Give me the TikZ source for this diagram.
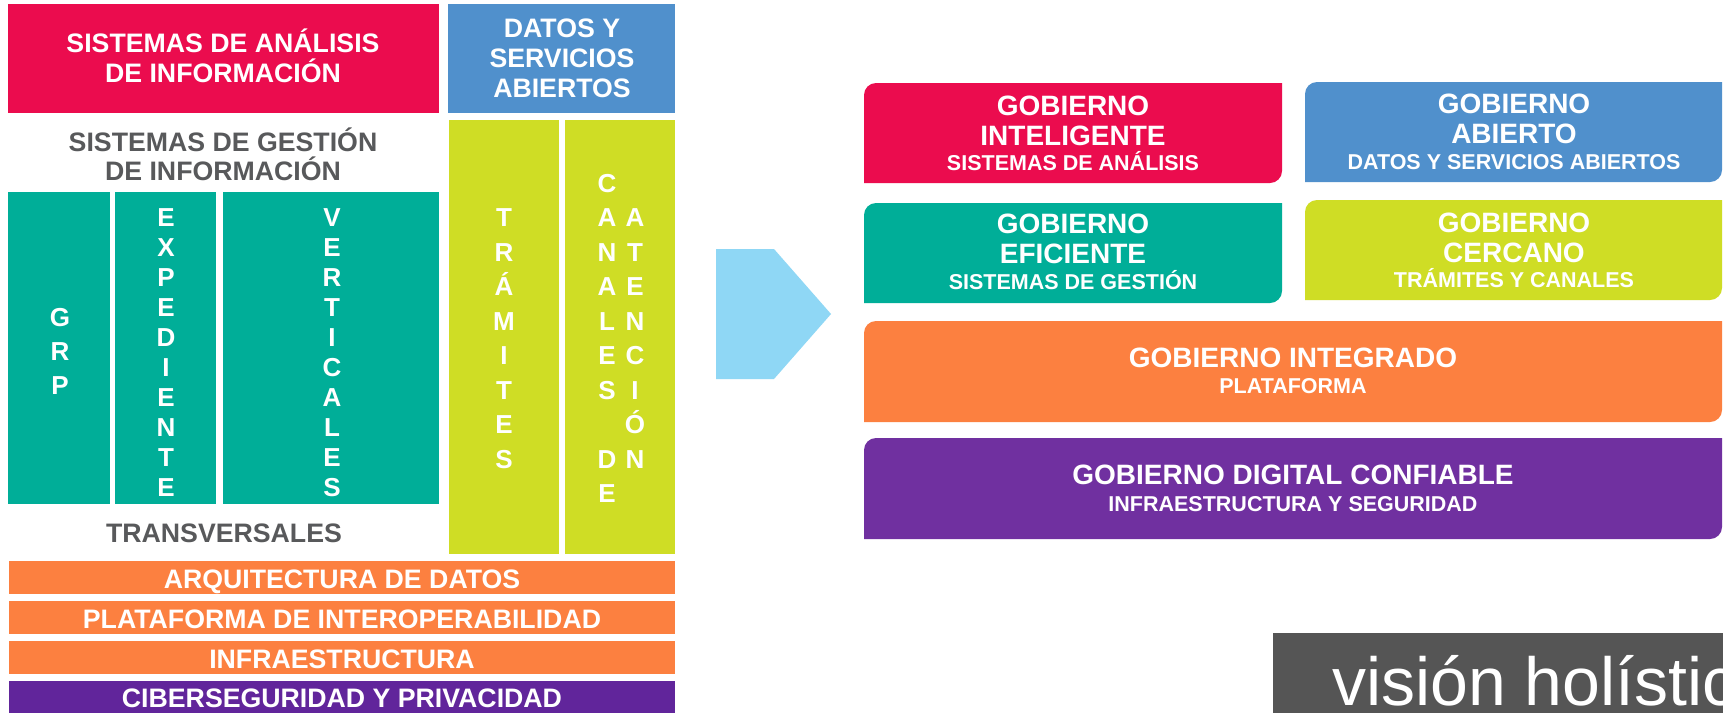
\documentclass[tikz,border=0pt]{standalone}
\usepackage{fontspec}
\setmainfont{Liberation Sans}
\definecolor{cred}{RGB}{235,12,78}
\definecolor{cblue}{RGB}{80,144,204}
\definecolor{clime}{RGB}{207,221,37}
\definecolor{cteal}{RGB}{0,174,152}
\definecolor{corange}{RGB}{252,128,64}
\definecolor{cpurpleL}{RGB}{97,37,155}
\definecolor{cpurpleR}{RGB}{112,48,160}
\definecolor{cgreytext}{RGB}{88,89,91}
\definecolor{carrow}{RGB}{143,215,245}
\definecolor{cdark}{RGB}{85,85,85}
\newcommand\diagrect[5]{\fill[#5] (#1,#4) -- (#1,#2+12) .. controls (#1,#2+5.4) and (#1+5.4,#2) .. (#1+12,#2) -- (#3,#2) -- (#3,#4-12) .. controls (#3,#4-5.4) and (#3-5.4,#4) .. (#3-12,#4) -- cycle;}
\begin{document}
\begin{tikzpicture}[x=1pt,y=-1pt,
  lbl/.style={text=white, font=\bfseries\fontsize{26.7}{30}\selectfont, inner sep=0pt, text height=19.1pt, text depth=0pt, anchor=center},
  glbl/.style={lbl, text=cgreytext},
  vstack/.style={text=white, font=\bfseries\fontsize{26}{34.5}\selectfont, inner sep=0pt, align=center, anchor=north},
  vstackB/.style={vstack, font=\bfseries\fontsize{26}{30}\selectfont},
  vstackC/.style={vstack, font=\bfseries\fontsize{26}{34}\selectfont},
  title/.style={text=white, font=\bfseries\fontsize{28}{32}\selectfont, inner sep=0pt, text height=20pt, text depth=0pt, anchor=center},
  sub/.style={text=white, font=\bfseries\fontsize{21.5}{25}\selectfont, inner sep=0pt, text height=15.4pt, text depth=0pt, anchor=center}]
\useasboundingbox (0,0) rectangle (1723,713);
\fill[white] (0,0) rectangle (1723,713);
% ---- left block ----
\fill[cred] (8,4) rectangle (439,113);
\fill[cblue] (448,4) rectangle (675,113);
\fill[clime] (449,120) rectangle (559,554);
\fill[clime] (565,120) rectangle (675,554);
\fill[cteal] (8,192) rectangle (110,504);
\fill[cteal] (115,192) rectangle (216,504);
\fill[cteal] (223,192) rectangle (439,504);
\fill[corange] (9,561) rectangle (675,594);
\fill[corange] (9,601) rectangle (675,634);
\fill[corange] (9,641) rectangle (675,674);
\fill[cpurpleL] (9,681) rectangle (675,713);

\node[lbl] (ana1) at (223,43) {SISTEMAS DE ANÁLISIS};
\node[lbl] (ana2) at (223,73) {DE INFORMACIÓN};
\node[lbl] (dat1) at (562,28) {DATOS Y};
\node[lbl] (dat2) at (562,58) {SERVICIOS};
\node[lbl] (dat3) at (562,88) {ABIERTOS};
\node[glbl] (ges1) at (223,142) {SISTEMAS DE GESTIÓN};
\node[glbl] (ges2) at (223,171) {DE INFORMACIÓN};
\node[glbl] (trans) at (224,533) {TRANSVERSALES};

\node[vstackC] (grp) at (60,307.7) {G\\R\\P};
\node[vstackB] (exp) at (166,208.7) {E\\X\\P\\E\\D\\I\\E\\N\\T\\E};
\node[vstackB] (ver) at (332,208.7) {V\\E\\R\\T\\I\\C\\A\\L\\E\\S};
\node[vstack] (tra) at (504,208.7) {T\\R\\Á\\M\\I\\T\\E\\S};
\node[vstack] (can) at (607,173.7) {C\\A\\N\\A\\L\\E\\S\\[34.5pt]D\\E};
\node[vstack] (ate) at (635,208.7) {A\\T\\E\\N\\C\\I\\Ó\\N};

\node[lbl] (arq) at (342,579) {ARQUITECTURA DE DATOS};
\node[lbl] (pla) at (342,619) {PLATAFORMA DE INTEROPERABILIDAD};
\node[lbl] (inf) at (342,659) {INFRAESTRUCTURA};
\node[lbl] (cib) at (342,698) {CIBERSEGURIDAD Y PRIVACIDAD};

% ---- arrow ----
\fill[carrow] (716,249) -- (774,249) -- (831,314) -- (774,379) -- (716,379) -- cycle;

% ---- right block ----
\diagrect{864}{83}{1282}{183}{cred}
\diagrect{1305}{82}{1722}{182}{cblue}
\diagrect{864}{203}{1282}{303}{cteal}
\diagrect{1305}{200}{1722}{300}{clime}
\diagrect{864}{321}{1722}{422}{corange}
\diagrect{864}{438}{1722}{539}{cpurpleR}

\node[title] (gi1) at (1073,105) {GOBIERNO};
\node[title] (gi2) at (1073,135) {INTELIGENTE};
\node[sub] (gi3) at (1073,163) {SISTEMAS DE ANÁLISIS};
\node[title] (ga1) at (1514,103) {GOBIERNO};
\node[title] (ga2) at (1514,133) {ABIERTO};
\node[sub] (ga3) at (1514,162) {DATOS Y SERVICIOS ABIERTOS};
\node[title] (ge1) at (1073,223) {GOBIERNO};
\node[title] (ge2) at (1073,253) {EFICIENTE};
\node[sub] (ge3) at (1073,282) {SISTEMAS DE GESTIÓN};
\node[title] (gc1) at (1514,222) {GOBIERNO};
\node[title] (gc2) at (1514,252) {CERCANO};
\node[sub] (gc3) at (1514,280) {TRÁMITES Y CANALES};
\node[title] (gin1) at (1293,357) {GOBIERNO INTEGRADO};
\node[sub] (gin2) at (1293,386) {PLATAFORMA};
\node[title] (gd1) at (1293,474) {GOBIERNO DIGITAL CONFIABLE};
\node[sub] (gd2) at (1293,504) {INFRAESTRUCTURA Y SEGURIDAD};

% ---- vision box ----
\fill[cdark] (1273,633) rectangle (1723,713);
\begin{scope}
\clip (1273,633) rectangle (1723,713);
\node[text=white, font=\fontsize{68}{80}\selectfont, inner sep=0pt, anchor=base west] (vis) at (1332,705) {visión holístic};
\end{scope}
\end{tikzpicture}
\end{document}
